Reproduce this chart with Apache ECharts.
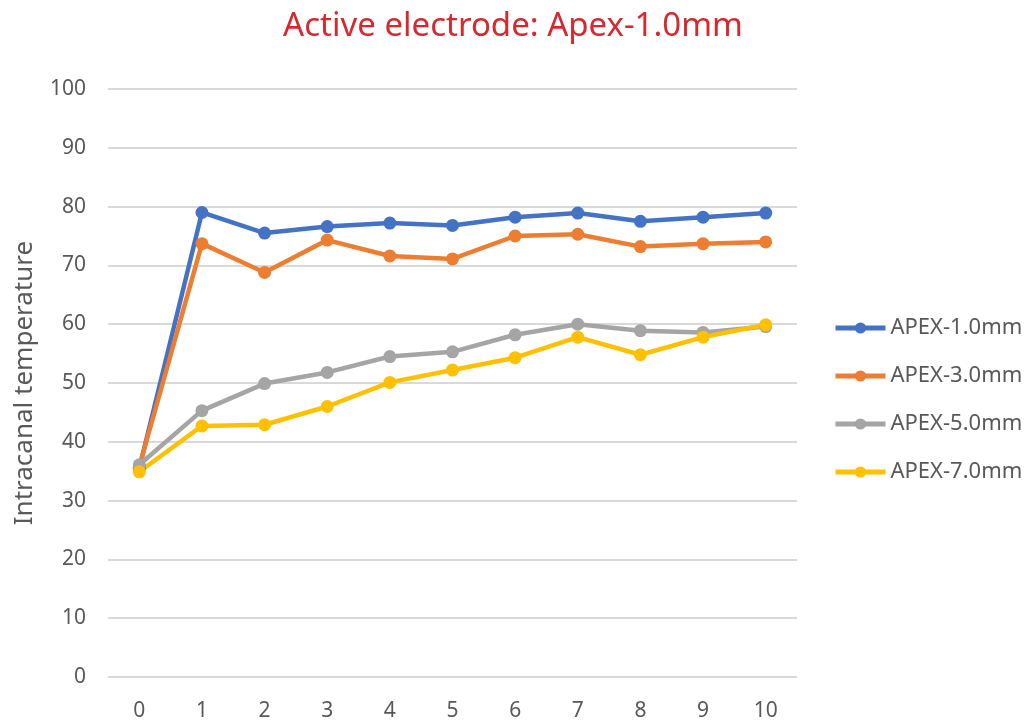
<!DOCTYPE html>
<html><head><meta charset="utf-8">
<script src="https://cdn.jsdelivr.net/npm/echarts@6/dist/echarts.min.js"></script>
<style>html,body{margin:0;padding:0;background:#fff}#c{width:1026px;height:724px}</style>
</head><body><div id="c"></div>
<script>
const categories = ['0','1','2','3','4','5','6','7','8','9','10'];
const apex1 = [35.5, 79.0, 75.5, 76.6, 77.2, 76.8, 78.2, 78.9, 77.5, 78.2, 78.9];
const apex3 = [35.8, 73.7, 68.8, 74.3, 71.6, 71.1, 75.0, 75.3, 73.2, 73.7, 74.0];
const apex5 = [36.1, 45.3, 49.9, 51.8, 54.5, 55.3, 58.2, 60.0, 58.9, 58.6, 59.6];
const apex7 = [34.9, 42.7, 42.9, 46.0, 50.1, 52.2, 54.3, 57.8, 54.8, 57.8, 59.9];
const seriesNames = ['APEX-1.0mm','APEX-3.0mm','APEX-5.0mm','APEX-7.0mm'];
const colors = ['#4472C4','#ED7D31','#A5A5A5','#FFC000'];
const dataSets = [apex1, apex3, apex5, apex7];
const font = 'Noto Sans';
const chart = echarts.init(document.getElementById('c'));
chart.setOption({
  animation: false,
  title: {text: 'Active electrode: Apex-1.0mm', left: 'center', top: 5,
    textStyle: {color: '#D6282E', fontSize: 33, fontWeight: 'normal', fontFamily: font}},
  legend: {orient: 'vertical', left: 833, top: 317, padding: 0, itemGap: 26, itemWidth: 50, itemHeight: 14,
    lineStyle: {width: 5},
    textStyle: {fontSize: 22, color: '#595959', fontFamily: font},
    data: seriesNames},
  grid: {left: 108, right: 229, top: 89, bottom: 47},
  xAxis: {type: 'category', data: categories, boundaryGap: true,
    axisLine: {show: false}, axisTick: {show: false},
    axisLabel: {color: '#595959', fontSize: 21, fontFamily: font, margin: 24}},
  yAxis: {type: 'value', min: 0, max: 100, interval: 10,
    name: 'Intracanal temperature', nameLocation: 'middle', nameGap: 70, nameRotate: 90,
    nameTextStyle: {color: '#595959', fontSize: 26, fontFamily: font},
    axisLine: {show: false}, axisTick: {show: false},
    axisLabel: {color: '#595959', fontSize: 21, fontFamily: font, margin: 22},
    splitLine: {lineStyle: {color: '#D9D9D9', width: 2}}},
  series: dataSets.map((d, i) => ({
    name: seriesNames[i], type: 'line', data: d, symbol: 'circle', symbolSize: 13,
    color: colors[i], lineStyle: {width: 4.5, color: colors[i]}, itemStyle: {color: colors[i]}
  }))
});
</script></body></html>
